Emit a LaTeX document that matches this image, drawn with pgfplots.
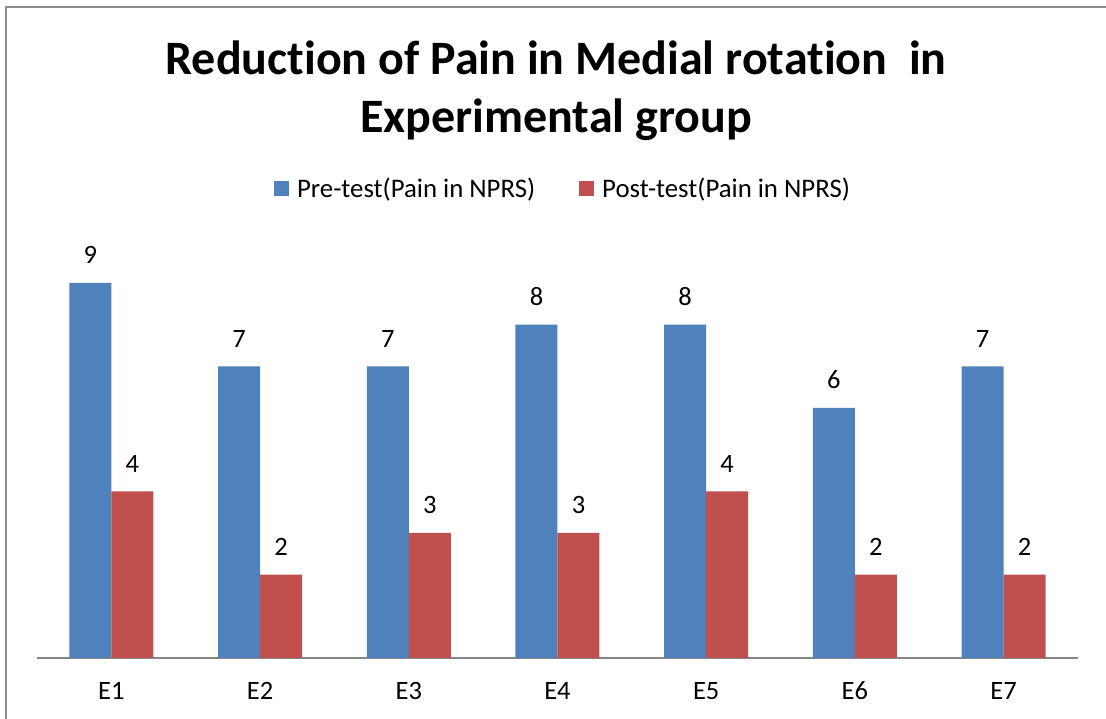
\documentclass[border=0pt]{standalone}
\usepackage{pgfplots}
\pgfplotsset{compat=1.18}
\usepackage{fontspec}
\setmainfont{Carlito}[Ligatures={NoCommon}]
\definecolor{preblue}{HTML}{4F81BD}
\definecolor{postred}{HTML}{C0504D}
\definecolor{axgray}{HTML}{868686}
\definecolor{framegray}{HTML}{8C8C8C}
\begin{document}
\begin{tikzpicture}[x=1pt,y=1pt]
\path[use as bounding box] (0,0) rectangle (1106,719);
\draw[framegray,line width=2pt] (6,0) -- (6,712) -- (1106,712);
\begin{axis}[
  at={(37pt,61pt)}, anchor=south west,
  scale only axis, width=1041pt, height=416.7pt,
  ybar=0pt, bar width=42pt,
  xmin=-0.5, xmax=6.5, ymin=0, ymax=10,
  xtick=data, xticklabels={E1,E2,E3,E4,E5,E6,E7},
  xtick style={draw=none}, ytick=\empty,
  axis y line=none, axis x line*=bottom,
  x axis line style={axgray,line width=1.5pt,-},
  /pgf/number format/assume math mode=true,
  xticklabel style={font=\fontsize{26.5}{31}\selectfont, anchor=base, yshift=-37pt, inner sep=0pt},
  nodes near coords,
  every node near coord/.append style={font=\fontsize{26.5}{31}\selectfont, black, anchor=south, inner sep=0pt, yshift=19pt},
  legend columns=2,
  legend style={draw=none, at={(0.5053,1.1266)}, anchor=center, font=\fontsize{26.8}{31}\selectfont,
    /tikz/every even column/.append style={column sep=42pt},
    /tikz/every odd column/.append style={column sep=6pt}},
  legend image code/.code={\fill[#1] (0pt,-7.5pt) rectangle (15pt,7.5pt);},
]
\addplot[fill=preblue, draw=none] coordinates {(0,9) (1,7) (2,7) (3,8) (4,8) (5,6) (6,7)};
\addplot[fill=postred, draw=none] coordinates {(0,4) (1,2) (2,3) (3,3) (4,4) (5,2) (6,2)};
\legend{Pre-test(Pain in NPRS), Post-test(Pain in NPRS)}
\end{axis}
\node[anchor=base, font=\fontsize{48}{58}\selectfont\bfseries] at (556,644) {Reduction of Pain in Medial rotation\ \ in};
\node[anchor=base, font=\fontsize{48}{58}\selectfont\bfseries] at (556,586) {Experimental group};
\end{tikzpicture}
\end{document}
